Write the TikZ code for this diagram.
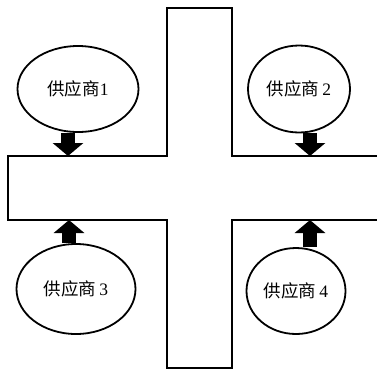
\documentclass[tikz,border=0pt]{standalone}
\usepackage{fontspec}
\setmainfont{Liberation Serif}
\newfontfamily\cjk{Noto Sans CJK SC}
\usetikzlibrary{shapes.geometric,arrows.meta}
\tikzset{
    supplier/.style={ellipse,draw,line width=1.8pt,inner sep=0pt,font=\fontsize{17.5}{20}\selectfont},
    blockarrow/.style={line width=14pt,-{Triangle[width=30pt,length=13pt]}}
}
\begin{document}
\begin{tikzpicture}[x=1pt,y=-1pt]
    \useasboundingbox (0,0) rectangle (377,368);
    \draw[line width=1.8pt] (8,156)--(167,156)--(167,8)--(232,8)--(232,156)--(379,156)--(379,220)--(232,220)--(232,368)--(167,368)--(167,220)--(8,220)--cycle;
    \node[supplier,minimum width=121pt,minimum height=86pt] (sup1) at (78,89) {{\cjk 供应商}1};
    \node[supplier,minimum width=102pt,minimum height=87pt] (sup2) at (299,89) {{\cjk 供应商}\,2};
    \node[supplier,minimum width=119pt,minimum height=90pt] (sup3) at (76,289) {{\cjk 供应商}\,3};
    \node[supplier,minimum width=99pt,minimum height=86pt] (sup4) at (296,291) {{\cjk 供应商}\,4};
    \coordinate (in1) at (68,156);
    \coordinate (in2) at (310,156);
    \coordinate (in3) at (69,220);
    \coordinate (in4) at (310,220);
    \draw[blockarrow] (sup1.south -| in1)--(in1);
    \draw[blockarrow] (sup2.south -| in2)--(in2);
    \draw[blockarrow] (sup3.north -| in3)--(in3);
    \draw[blockarrow] (sup4.north -| in4)--(in4);
\end{tikzpicture}
\end{document}
